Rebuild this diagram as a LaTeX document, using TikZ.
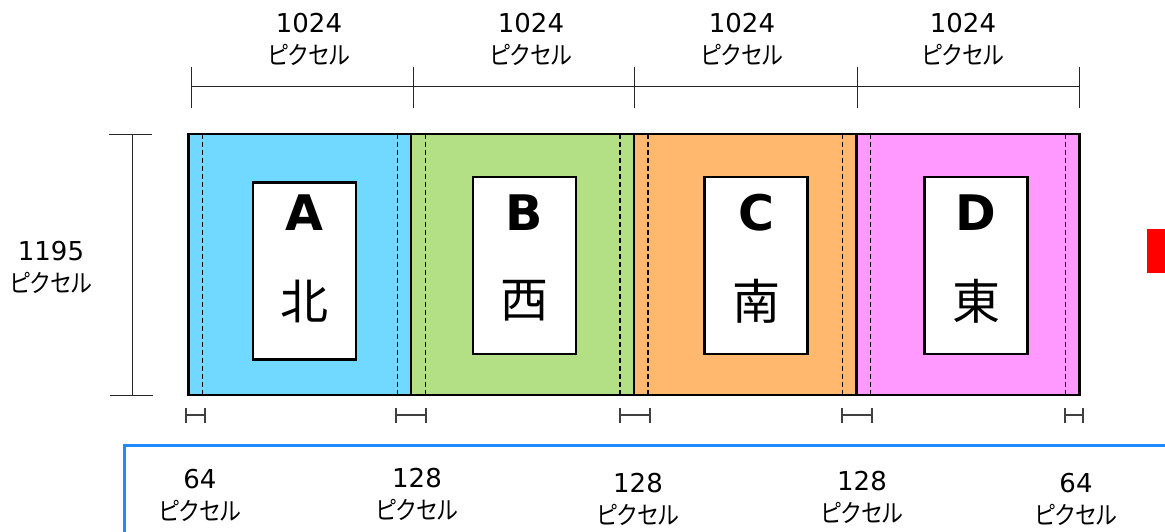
\documentclass[tikz,border=0pt]{standalone}
\usepackage{fontspec}
\setmainfont{DejaVu Sans}
\newfontfamily\jp{Noto Sans CJK JP}[RawFeature=+palt]
\newfontfamily\jpn{Noto Sans CJK JP}[RawFeature=+palt, FakeStretch=0.88]
\usetikzlibrary{positioning}
\definecolor{panelA}{HTML}{71D9FF}
\definecolor{panelB}{HTML}{B3DF85}
\definecolor{panelC}{HTML}{FFB86E}
\definecolor{panelD}{HTML}{FF99FF}
\definecolor{frameblue}{HTML}{1E8CFF}
\newcommand{\kana}{\jpn\fontsize{25}{32}\selectfont}
\tikzset{
  panel/.style={draw=black, line width=2.5pt, minimum width=222.75pt, minimum height=261pt, inner sep=0pt, outer sep=0pt},
  card/.style={draw=black, line width=2.5pt, fill=white, minimum width=103pt, minimum height=177pt, inner sep=0pt, outer sep=0pt},
  letter/.style={font=\fontsize{49}{49}\selectfont\bfseries, inner sep=0pt},
  kanji/.style={font=\jp\fontsize{48}{48}\selectfont, inner sep=0pt},
  pxlabel/.style={align=center, font=\fontsize{26}{32}\selectfont, inner sep=0pt},
  dimline/.style={draw=black!85, line width=1pt},
  gapline/.style={draw=black!75, line width=1.3pt},
  margin/.style={draw=black, line width=1.3pt, dash pattern=on 5pt off 3pt}
}
\begin{document}
\begin{tikzpicture}[x=1pt,y=-1pt]
\useasboundingbox (0,0) rectangle (1165,531);
% four strips
\foreach \n/\cx/\col in {A/299.9/panelA, B/522.6/panelB, C/745.4/panelC, D/968.1/panelD}
  \node[panel, fill=\col] (p\n) at (\cx,264.5) {};
\foreach \n in {A,B,C,D} {
  \draw[margin] ([xshift=14pt]p\n.north west) -- ([xshift=14pt]p\n.south west);
  \draw[margin] ([xshift=-14pt]p\n.north east) -- ([xshift=-14pt]p\n.south east);
}
% white cards
\foreach \n/\cx/\cy/\kj in {A/304.5/271/北, B/524.5/265.5/西, C/756/265.5/南, D/976/265.5/東} {
  \node[card] (c\n) at (\cx,\cy) {};
  \node[letter] (l\n) at (\cx,213) {\n};
  \node[kanji] (k\n) at (\cx,301) {\kj};
}
% width on top
\foreach \i/\x in {0/191,1/413,2/634,3/857,4/1079}
  \coordinate (t\i) at (\x,86);
\draw[dimline] (t0) -- (t4);
\foreach \i in {0,...,4}
  \draw[dimline] ([yshift=19pt]t\i) -- ([yshift=-22pt]t\i);
\foreach \i/\x in {1/309,2/531,3/742,4/963}
  \node[pxlabel] (w\i) at (\x,39) {1024\\{\kana ピクセル}};
% height on the left
\coordinate (v0) at (132,134);
\coordinate (v1) at (132,395);
\draw[dimline] (v0) -- (v1);
\draw[dimline] ([xshift=-23pt]v0) -- ([xshift=20pt]v0);
\draw[dimline] ([xshift=-22pt]v1) -- ([xshift=21pt]v1);
\node[pxlabel] (hgt) at (51,267) {1195\\{\kana ピクセル}};
% overlaps below
\foreach \i/\a/\b in {1/186/205, 2/396/426, 3/620/650, 4/842/872, 5/1065/1083} {
  \coordinate (ma\i) at (\a,415);
  \coordinate (mb\i) at (\b,415);
  \draw[gapline] (ma\i) -- (mb\i);
  \draw[gapline] ([yshift=7pt]ma\i) -- ([yshift=-8pt]ma\i);
  \draw[gapline] ([yshift=7pt]mb\i) -- ([yshift=-8pt]mb\i);
}
\draw[frameblue, line width=3pt] (124,545) |- (1180,445);
\foreach \i/\x/\y/\v in {1/200/495/64, 2/417/494/128, 3/638/499.5/128, 4/862/497/128, 5/1076/499.5/64}
  \node[pxlabel] (g\i) at (\x,\y) {\v\\{\kana ピクセル}};
\fill[red] (1147,229) rectangle (1180,273);
\end{tikzpicture}
\end{document}
